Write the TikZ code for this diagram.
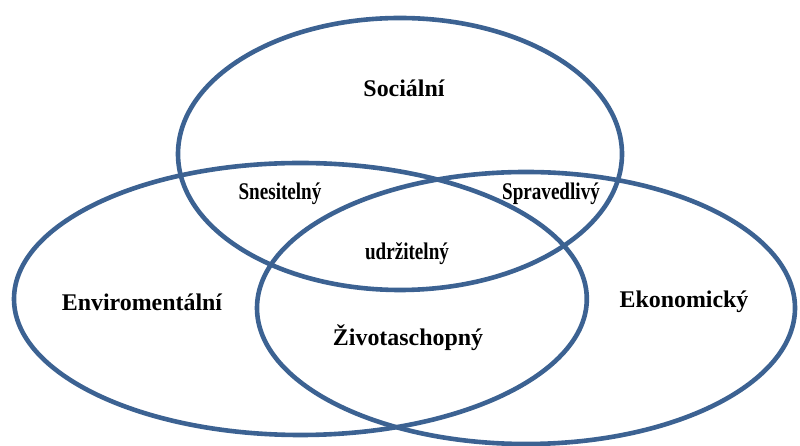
\documentclass[tikz,border=0pt]{standalone}
\usepackage{fontspec}
\setmainfont{Liberation Serif}
\newfontfamily\narrowserif[FakeStretch=0.8]{Liberation Serif}
\definecolor{ringblue}{RGB}{60,98,146}
\tikzset{
  ring/.style={draw=ringblue, line width=0.115cm},
  biglabel/.style={font=\bfseries\fontsize{17}{20}\selectfont},
  smalllabel/.style={font=\narrowserif\bfseries\fontsize{17}{20}\selectfont}
}
\begin{document}
\begin{tikzpicture}
\useasboundingbox (0,0) rectangle (20,11.15);

% social (top ellipse)
\draw[ring] (10,7.3) ellipse [x radius=5.55, y radius=3.4];
\node[biglabel] (soc) at (10.1,8.95) {Sociální};

% environmental (left ellipse)
\draw[ring] (7.51,3.675) ellipse [x radius=7.16, y radius=3.4];
\node[biglabel] (env) at (3.55,3.6) {Enviromentální};

% economic (right ellipse)
\draw[ring] (13.15,3.45) ellipse [x radius=6.725, y radius=3.4];
\node[biglabel] (eko) at (17.1,3.6) {Ekonomický};

% overlaps
\node[smalllabel] (snes) at (7.0,6.3) {Snesitelný};
\node[smalllabel] (sprav) at (13.775,6.3) {Spravedlivý};
\node[smalllabel] (udrz) at (10.175,4.8) {udržitelný};
\node[biglabel] (ziv) at (10.2,2.7) {Životaschopný};
\end{tikzpicture}
\end{document}
